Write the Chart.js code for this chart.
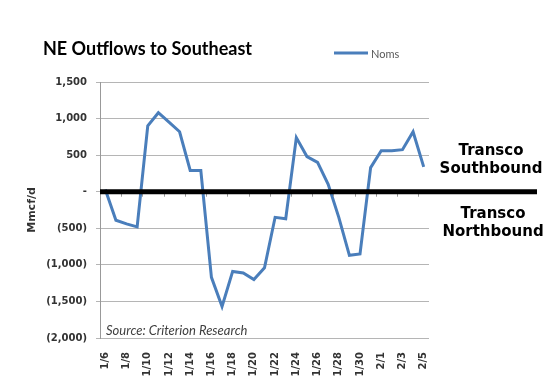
<!DOCTYPE html>
<html>
<head>
<meta charset="utf-8">
<script src="https://cdn.jsdelivr.net/npm/chart.js@4.4.1/dist/chart.umd.min.js"></script>
<style>
  html, body { margin: 0; padding: 0; background: #fff; }
</style>
</head>
<body>
<canvas id="flowChart" width="548" height="392"></canvas>
<script>
const dates = ['1/6', '1/7', '1/8', '1/9', '1/10', '1/11', '1/12', '1/13', '1/14', '1/15',
  '1/16', '1/17', '1/18', '1/19', '1/20', '1/21', '1/22', '1/23', '1/24', '1/25',
  '1/26', '1/27', '1/28', '1/29', '1/30', '1/31', '2/1', '2/2', '2/3', '2/4', '2/5'];
const noms = [30, -390, -440, -480, 900, 1080, 950, 820, 290, 290,
  -1170, -1570, -1090, -1110, -1200, -1040, -350, -370, 740, 480,
  400, 100, -350, -870, -850, 330, 560, 560, 575, 820, 340];
const yTickValues = [-2000, -1500, -1000, -500, 0, 500, 1000, 1500];

function fmtTick(v) {
  if (v === 0) return '-';
  const s = Math.abs(v).toLocaleString('en-US');
  return v < 0 ? '(' + s + ')' : s;
}

// annotations : ligne noire a zero, textes Transco, titre, legende, source
const overlay = {
  id: 'overlay',
  afterDatasetsDraw(chart) {
    const { ctx, chartArea, scales: { x, y } } = chart;
    const y0 = y.getPixelForValue(0);
    const step = x.getPixelForValue(1) - x.getPixelForValue(0);
    ctx.save();
    // petites graduations sur l'axe des categories
    ctx.strokeStyle = '#999';
    ctx.lineWidth = 1;
    for (let i = 0; i <= dates.length; i += 2) {
      const px = Math.round(x.getPixelForValue(0) - step / 2 + i * step) + 0.5;
      ctx.beginPath();
      ctx.moveTo(px, y0);
      ctx.lineTo(px, y0 + 5);
      ctx.stroke();
    }
    ctx.strokeStyle = '#000';
    ctx.lineWidth = 5;
    ctx.beginPath();
    ctx.moveTo(chartArea.left, y0);
    ctx.lineTo(537, y0);
    ctx.stroke();
    ctx.restore();
  },
  afterDraw(chart) {
    const { ctx, chartArea } = chart;
    ctx.save();
    ctx.fillStyle = '#000';
    ctx.textAlign = 'left';
    ctx.textBaseline = 'alphabetic';
    ctx.font = 'bold 18px Lato';
    ctx.fillText('NE Outflows to Southeast', 43, 55);

    // legende
    ctx.strokeStyle = '#4a7ebb';
    ctx.lineWidth = 3;
    ctx.beginPath();
    ctx.moveTo(334, 53);
    ctx.lineTo(368, 53);
    ctx.stroke();
    ctx.fillStyle = '#595959';
    ctx.font = '11px Lato';
    ctx.textBaseline = 'middle';
    ctx.fillText(chart.data.datasets[0].label, 371, 54);

    ctx.fillStyle = '#000';
    ctx.textAlign = 'center';
    ctx.textBaseline = 'alphabetic';
    ctx.font = 'bold 15px "DejaVu Sans"';
    ctx.fillText('Transco', 491, 155);
    ctx.fillText('Southbound', 491, 173);
    ctx.fillText('Transco', 493, 218);
    ctx.fillText('Northbound', 493, 236);

    ctx.textAlign = 'left';
    ctx.fillStyle = '#404040';
    ctx.font = 'italic 13px Lato';
    ctx.fillText('Source: Criterion Research', 106, chartArea.bottom - 3);
    ctx.restore();
  }
};

new Chart(document.getElementById('flowChart'), {
  type: 'line',
  data: {
    labels: dates,
    datasets: [{
      label: 'Noms',
      data: noms,
      borderColor: '#4a7ebb',
      borderWidth: 3,
      pointRadius: 0,
      tension: 0,
      fill: false
    }]
  },
  options: {
    responsive: false,
    animation: false,
    layout: { padding: { top: 82, right: 119, left: 0, bottom: 0 } },
    plugins: {
      legend: { display: false },
      title: { display: false },
      tooltip: { enabled: false }
    },
    scales: {
      x: {
        offset: true,
        grid: { display: false },
        border: { display: false },
        afterFit: (s) => { s.height = 54; },
        ticks: {
          autoSkip: false,
          maxRotation: 90,
          minRotation: 90,
          padding: 6,
          color: '#333',
          font: { family: 'DejaVu Sans', weight: 'bold', size: 10 },
          callback: (v, i) => (i % 2 === 0 ? dates[i] : '')
        }
      },
      y: {
        min: -2000,
        max: 1500,
        afterBuildTicks: (axis) => { axis.ticks = yTickValues.map(v => ({ value: v })); },
        afterFit: (s) => { s.width = 100; },
        grid: { color: '#b5b5b5', lineWidth: 1, tickLength: 4 },
        border: { display: true, color: '#999' },
        title: {
          display: true,
          text: 'Mmcf/d',
          color: '#333',
          font: { family: 'DejaVu Sans', weight: 'bold', size: 11 },
          padding: { top: 26, bottom: 0 }
        },
        ticks: {
          padding: 9,
          color: '#333',
          font: { family: 'DejaVu Sans', weight: 'bold', size: 10 },
          callback: (v) => fmtTick(v)
        }
      }
    }
  },
  plugins: [overlay]
});
</script>
</body>
</html>
